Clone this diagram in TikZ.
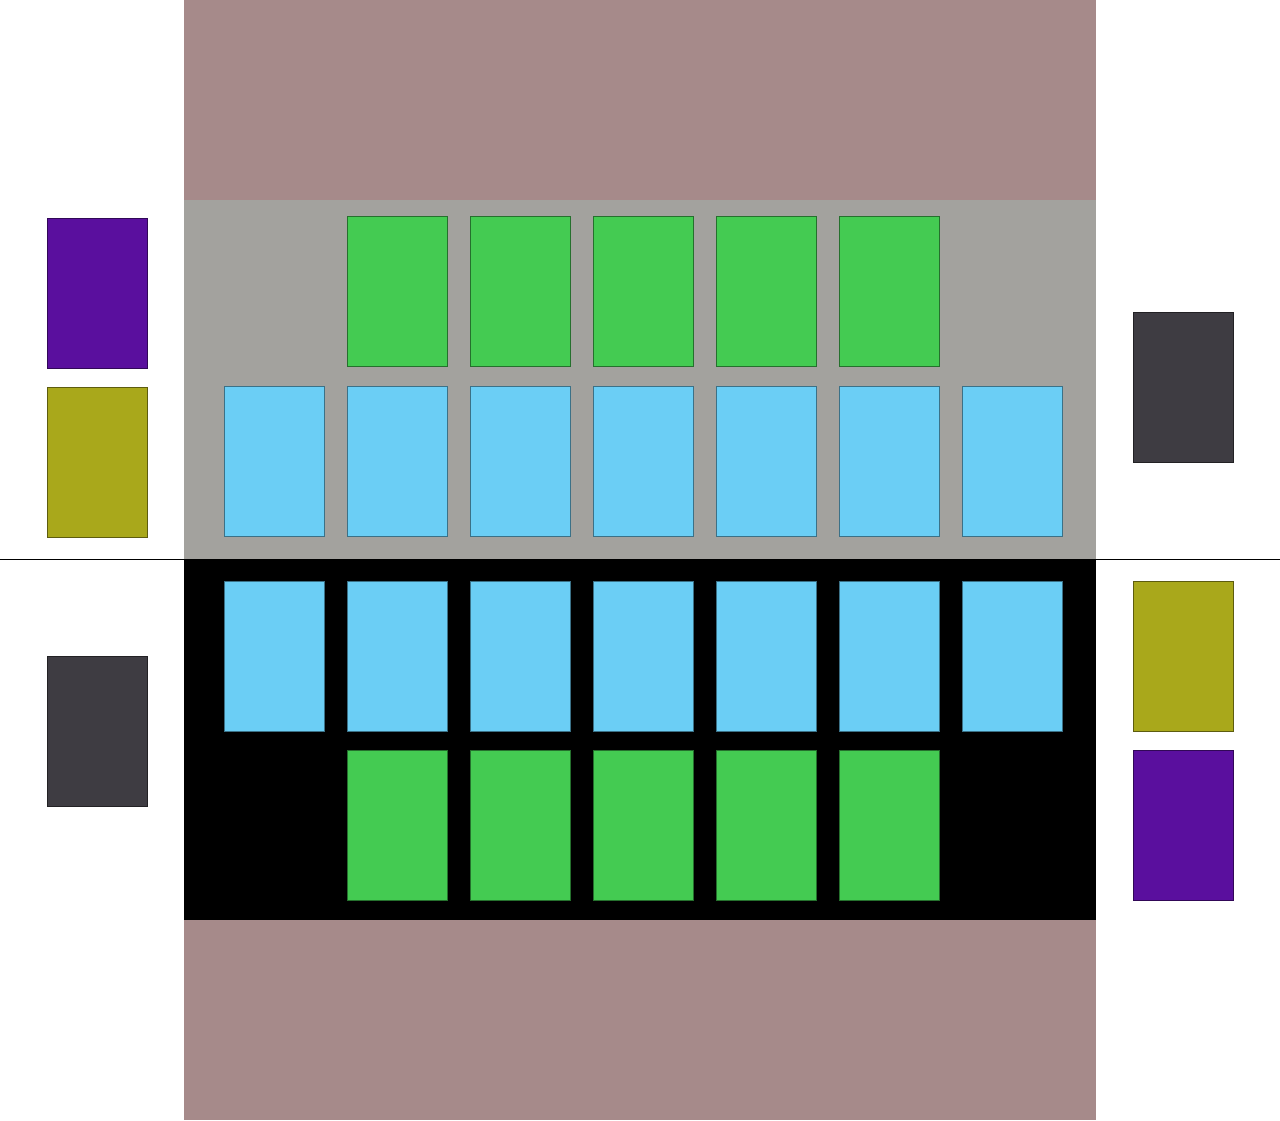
\documentclass[tikz,border=0pt]{standalone}
\usetikzlibrary{positioning}
\definecolor{tablebrown}{HTML}{A68A8A}
\definecolor{tablegray}{HTML}{A3A29E}
\definecolor{cardgreen}{HTML}{44CB52}
\definecolor{cardblue}{HTML}{6BCEF5}
\definecolor{cardpurple}{HTML}{5A0F9E}
\definecolor{cardolive}{HTML}{A9A81B}
\definecolor{carddark}{HTML}{3E3C42}
\tikzset{
  card/.style={rectangle,anchor=north west,inner sep=0pt,minimum width=1cm,
    minimum height=1.5cm,line width=0.3pt,fill=#1,draw=#1!55!black},
}
\begin{document}
\begin{tikzpicture}[x=0.01cm,y=-0.01cm]
\useasboundingbox (0,0) rectangle (1280,1120);
\fill[tablebrown] (184,0) rectangle (1096,200);
\fill[tablegray] (184,200) rectangle (1096,559);
\fill[black] (184,559) rectangle (1096,920);
\fill[tablebrown] (184,920) rectangle (1096,1120);
\draw[line width=0.45pt] (0,559.5) -- (1280,559.5);
% upper side
\foreach \i in {1,...,5}
  \node[card=cardgreen] (ugreen\i) at (224+123*\i,216) {};
\foreach \i in {0,...,6}
  \node[card=cardblue] (ublue\i) at (224+123*\i,386) {};
\node[card=cardpurple] (upurple) at (47,218) {};
\node[card=cardolive] (uolive) at (47,387) {};
\node[card=carddark] (udark) at (1133,312) {};
% lower side
\foreach \i in {0,...,6}
  \node[card=cardblue] (lblue\i) at (224+123*\i,581) {};
\foreach \i in {1,...,5}
  \node[card=cardgreen] (lgreen\i) at (224+123*\i,750) {};
\node[card=carddark] (ldark) at (47,656) {};
\node[card=cardolive] (lolive) at (1133,581) {};
\node[card=cardpurple] (lpurple) at (1133,750) {};
\end{tikzpicture}
\end{document}
